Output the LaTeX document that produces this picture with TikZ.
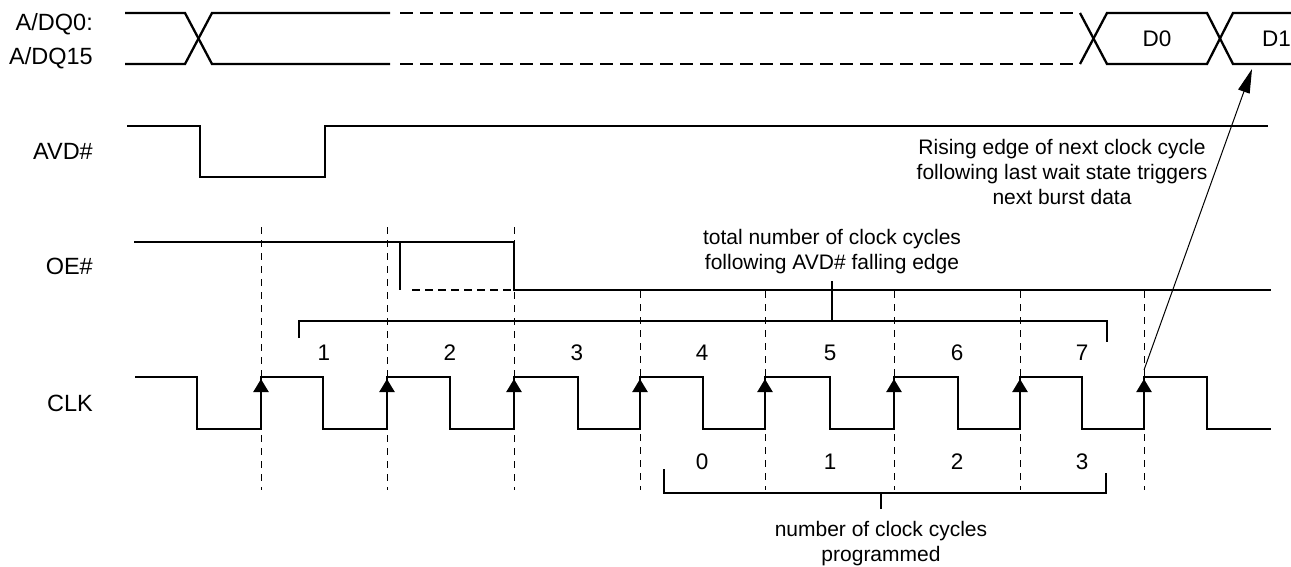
\documentclass[tikz,border=0pt]{standalone}
\usepackage{fontspec}
\setmainfont{Liberation Sans}
\usetikzlibrary{arrows.meta}

\begin{document}
\begin{tikzpicture}[x=1pt,y=-1pt,
  wave/.style={line width=2.3pt, line join=miter},
  grid/.style={line width=1pt, dash pattern=on 7pt off 6pt},
  brace/.style={line width=1.2pt},
  sig/.style={font=\fontsize{23.5}{27}\selectfont, anchor=base east, inner sep=0pt},
  num/.style={font=\fontsize{22.5}{26}\selectfont, anchor=base, inner sep=0pt},
  note/.style={font=\fontsize{21}{25}\selectfont, align=center, inner sep=0pt},
  edgetip/.style={-{Triangle[width=15pt,length=13pt]}, line width=2.3pt}]
\useasboundingbox (0,0) rectangle (1291,567);

% Draw signal names
\node[sig] (dq0) at (93,30.9) {A/DQ0:};
\node[sig] (dq15) at (93,64.4) {A/DQ15};
\node[sig] (avd) at (93,159.9) {AVD\#};
\node[sig] (oe) at (93,274.4) {OE\#};
\node[sig] (clk) at (93,411.4) {CLK};

% Draw address/data bus
\draw[wave] (125,13) -- (185,13) -- (212,64) -- (390,64);
\draw[wave] (125,64) -- (185,64) -- (212,13) -- (390,13);
\draw[wave, dash pattern=on 13pt off 7pt] (400,13) -- (1073,13) (400,64) -- (1073,64);
\draw[wave] (1080,13) -- (1107,64) -- (1207,64) -- (1233,13) -- (1291,13);
\draw[wave] (1080,64) -- (1107,13) -- (1207,13) -- (1233,64) -- (1291,64);
\node[num] (d0) at (1157,46.6) {D0};
\node[num] (d1) at (1276.5,46.6) {D1};

% Draw AVD#
\draw[wave] (127,126) -- (200,126) -- (200,177) -- (325,177) -- (325,126) -- (1268,126);

% Draw OE#
\draw[wave] (134,242) -- (514,242) -- (514,290) -- (1271,290);
\draw[wave] (400,242) -- (400,290);
\draw[wave, dash pattern=on 8pt off 5pt] (412,290) -- (514,290);

% Clock edge markers
\foreach \r in {261,387,514} \draw[grid] (\r,227) -- (\r,490);
\foreach \r in {640,765,894,1020,1144} \draw[grid] (\r,291) -- (\r,490);

% Draw CLK
\draw[wave] (135,377)
  \foreach \f/\r in {197/261,323/387,450/514,578/640,703/765,830/894,958/1020,1082/1144}
    { -- (\f,377) -- (\f,429) -- (\r,429) -- (\r,377) }
  -- (1207,377) -- (1207,429) -- (1271,429);
\foreach \r in {261,387,514,640,765,894,1020,1144} \draw[edgetip] (\r,400) -- (\r,379);

% Cycle counts
\foreach \x/\n in {324/1,450/2,577/3,702/4,830/5,957/6,1082/7}
  \node[num] (c\n) at (\x,360.1) {\n};
\foreach \x/\n in {702/0,830/1,957/2,1082/3}
  \node[num] (w\n) at (\x,469.1) {\n};

% Total bracket
\coordinate (totL) at (299,321);
\coordinate (totR) at (1107,321);
\coordinate (tottick) at (832,281);
\draw[brace] (299,338) -- (totL) -- (totR) -- (1107,342);
\draw[brace] (tottick) -- (tottick |- totL);
\node[note] (totnote) at (832,252) {total number of clock cycles\\following AVD\# falling edge};

% Programmed bracket
\coordinate (progL) at (664,493);
\coordinate (progR) at (1106,493);
\coordinate (progtick) at (881,509);
\draw[brace] (664,469) -- (progL) -- (progR) -- (1106,473);
\draw[brace] (progtick) -- (progtick |- progL);
\node[note] (prognote) at (881,544) {number of clock cycles\\programmed};

% Trigger arrow
\node[note] (trignote) at (1062,171.5) {Rising edge of next clock cycle\\following last wait state triggers\\next burst data};
\coordinate (trig) at (1144,370);
\coordinate (d1pt) at (1252,69);
\draw[-{Triangle[width=12pt,length=24pt]}, line width=1pt] (trig) -- (d1pt);
\end{tikzpicture}
\end{document}
